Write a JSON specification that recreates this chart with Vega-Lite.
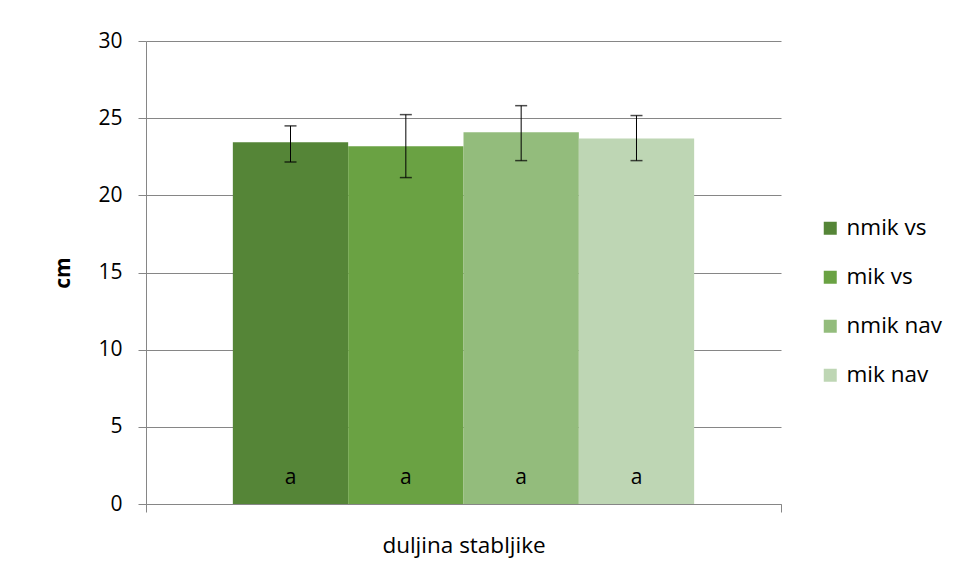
{
  "$schema": "https://vega.github.io/schema/vega-lite/v6.json",
  "autosize": {"type": "none"},
  "width": 635,
  "height": 463,
  "padding": {"left": 146, "top": 41, "right": 179, "bottom": 81},
  "background": "white",
  "config": {
    "view": {"stroke": null},
    "font": "Open Sans"
  },
  "data": {
    "values": [
      {"category": "duljina stabljike", "series": "nmik vs", "mean": 23.44, "lo": 22.16, "hi": 24.5, "letter": "a"},
      {"category": "duljina stabljike", "series": "mik vs", "mean": 23.18, "lo": 21.15, "hi": 25.23, "letter": "a"},
      {"category": "duljina stabljike", "series": "nmik nav", "mean": 24.09, "lo": 22.25, "hi": 25.81, "letter": "a"},
      {"category": "duljina stabljike", "series": "mik nav", "mean": 23.68, "lo": 22.25, "hi": 25.17, "letter": "a"}
    ]
  },
  "encoding": {
    "x": {
      "field": "category",
      "type": "nominal",
      "scale": {"paddingInner": 0, "paddingOuter": 0},
      "axis": {
        "title": null,
        "labelAngle": 0,
        "labelFontSize": 22.5,
        "labelColor": "#000000",
        "labelPadding": 22,
        "tickBand": "extent",
        "tickSize": 8,
        "tickColor": "#868686",
        "domainColor": "#868686",
        "domainWidth": 1,
        "grid": false
      }
    },
    "xOffset": {
      "field": "series",
      "type": "nominal",
      "sort": ["nmik vs", "mik vs", "nmik nav", "mik nav"],
      "scale": {"paddingInner": 0, "paddingOuter": 0.753}
    }
  },
  "layer": [
    {
      "mark": {"type": "bar"},
      "encoding": {
        "y": {
          "field": "mean",
          "type": "quantitative",
          "scale": {"domain": [0, 30]},
          "axis": {
            "title": "cm",
            "titleFontSize": 21,
            "titleFontWeight": "bold",
            "titleColor": "#000000",
            "titlePadding": 24,
            "values": [0, 5, 10, 15, 20, 25, 30],
            "labelFontSize": 21,
            "labelColor": "#000000",
            "labelPadding": 16,
            "tickSize": 8,
            "tickColor": "#868686",
            "domainColor": "#868686",
            "gridColor": "#868686",
            "gridWidth": 1,
            "grid": true
          }
        },
        "color": {
          "field": "series",
          "type": "nominal",
          "sort": ["nmik vs", "mik vs", "nmik nav", "mik nav"],
          "scale": {
            "domain": ["nmik vs", "mik vs", "nmik nav", "mik nav"],
            "range": ["#558537", "#6aa243", "#93bc7c", "#bed6b4"]
          },
          "legend": {
            "title": null,
            "orient": "none",
            "legendX": 673,
            "legendY": 176,
            "symbolType": "square",
            "symbolSize": 169,
            "symbolStrokeWidth": 0,
            "labelFontSize": 22.5,
            "labelColor": "#000000",
            "labelOffset": 5,
            "rowPadding": 26
          }
        }
      }
    },
    {
      "mark": {"type": "rule", "color": "#000000", "strokeWidth": 1},
      "encoding": {
        "y": {"field": "lo", "type": "quantitative"},
        "y2": {"field": "hi"}
      }
    },
    {
      "mark": {"type": "tick", "color": "#000000", "thickness": 1.5, "size": 12, "orient": "horizontal"},
      "encoding": {
        "y": {"field": "lo", "type": "quantitative"}
      }
    },
    {
      "mark": {"type": "tick", "color": "#000000", "thickness": 1.5, "size": 12, "orient": "horizontal"},
      "encoding": {
        "y": {"field": "hi", "type": "quantitative"}
      }
    },
    {
      "mark": {"type": "text", "fontSize": 21, "color": "#000000", "baseline": "middle"},
      "encoding": {
        "y": {"datum": 1.7, "type": "quantitative"},
        "text": {"field": "letter"}
      }
    }
  ]
}
